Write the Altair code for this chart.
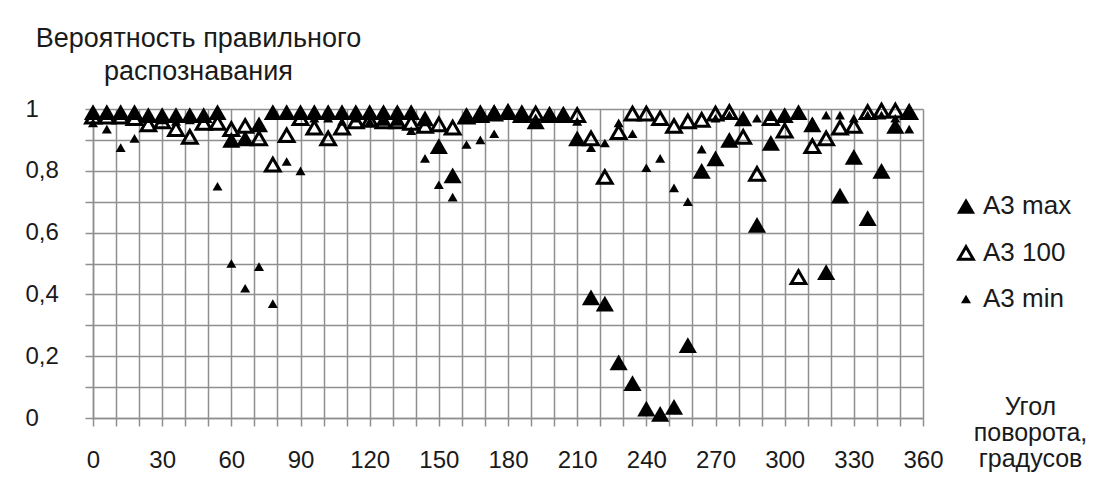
import altair as alt
import pandas as pd

# Rotation angle, degrees
angles = [0, 6, 12, 18, 24, 30, 36, 42, 48, 54,
          60, 66, 72, 78, 84, 90, 96, 102, 108, 114,
          120, 126, 132, 138, 144, 150, 156, 162, 168, 174,
          180, 186, 192, 198, 204, 210, 216, 222, 228, 234,
          240, 246, 252, 258, 264, 270, 276, 282, 288, 294,
          300, 306, 312, 318, 324, 330, 336, 342, 348, 354]

# Recognition probability per series
a3_max = [0.99, 0.99, 0.99, 0.99, 0.98, 0.98, 0.98, 0.98, 0.98, 0.99,
          0.90, 0.905, 0.95, 0.99, 0.99, 0.99, 0.99, 0.99, 0.99, 0.99,
          0.99, 0.99, 0.99, 0.99, 0.97, 0.88, 0.785, 0.98, 0.99, 0.99,
          0.99, 0.99, 0.96, 0.98, 0.98, 0.905, 0.39, 0.37, 0.18, 0.113,
          0.03, 0.013, 0.036, 0.236, 0.80, 0.84, 0.90, 0.97, 0.625, 0.89,
          0.98, 0.99, 0.95, 0.472, 0.72, 0.845, 0.647, 0.80, 0.945, 0.99]

a3_100 = [0.975, 0.975, 0.975, 0.97, 0.95, 0.96, 0.935, 0.91, 0.955, 0.955,
          0.935, 0.945, 0.905, 0.82, 0.915, 0.97, 0.94, 0.905, 0.94, 0.96,
          0.965, 0.96, 0.96, 0.955, 0.945, 0.95, 0.94, 0.975, 0.98, 0.985,
          0.99, 0.98, 0.985, 0.98, 0.98, 0.98, 0.905, 0.78, 0.925, 0.985,
          0.985, 0.97, 0.945, 0.96, 0.965, 0.985, 0.99, 0.91, 0.79, 0.97,
          0.93, 0.456, 0.88, 0.905, 0.94, 0.945, 0.99, 0.995, 0.995, 0.99]

a3_min = [0.955, 0.935, 0.875, 0.905, 0.97, 0.965, 0.96, 0.965, 0.97, 0.75,
          0.50, 0.42, 0.49, 0.37, 0.83, 0.80, 0.97, 0.97, 0.96, 0.97,
          0.96, 0.96, 0.96, 0.93, 0.84, 0.755, 0.715, 0.885, 0.90, 0.92,
          0.98, 0.97, 0.95, 0.97, 0.97, 0.96, 0.875, 0.89, 0.955, 0.92,
          0.81, 0.84, 0.745, 0.70, 0.87, 0.97, 0.98, 0.97, 0.97, 0.975,
          0.97, 0.98, 0.96, 0.98, 0.98, 0.97, 0.98, 0.98, 0.97, 0.935]

series_names = ["A3 max", "A3 100", "A3 min"]
x_ticks = list(range(0, 361, 10))
y_ticks = [0, 0.1, 0.2, 0.3, 0.4, 0.5, 0.6, 0.7, 0.8, 0.9, 1.0]

rows = []
for k, (name, vals) in enumerate(zip(series_names, [a3_max, a3_100, a3_min])):
    for a, v in zip(angles, vals):
        rows.append({"angle": a, "p": v, "series": name, "k": k})
df = pd.DataFrame(rows)

FONT = "Liberation Sans"
TXT = "#1a1a1a"
GRID = "#8f8f8f"
W, H = 830, 309
NONE = "rgba(0,0,0,0)"

points = alt.Chart(df).mark_point(shape="triangle-up", strokeWidth=3, opacity=1).encode(
    x=alt.X("angle:Q",
            scale=alt.Scale(domain=[0, 360], nice=False),
            axis=alt.Axis(values=x_ticks,
                          labelExpr="datum.value % 30 == 0 ? datum.label : ''",
                          title=["Угол", "поворота,", "градусов"],
                          titleAngle=0, titleAlign="center", titleBaseline="top",
                          titleX=W + 107, titleY=-24, titleLineHeight=26,
                          titleFontSize=25, titleFontWeight="normal")),
    y=alt.Y("p:Q",
            scale=alt.Scale(domain=[0, 1], nice=False),
            axis=alt.Axis(values=y_ticks,
                          labelExpr="round(datum.value * 10) % 2 == 0 ? replace(format(datum.value, '.1~f'), '.', ',') : ''",
                          title=["Вероятность правильного", "распознавания"],
                          titleAngle=0, titleAlign="center", titleBaseline="top",
                          titleX=105, titleY=-84, titleLineHeight=33,
                          titleFontSize=27, titleFontWeight="normal")),
    fill=alt.Fill("series:N", sort=series_names,
                  scale=alt.Scale(domain=series_names, range=["black", NONE, "black"])),
    stroke=alt.Stroke("series:N", sort=series_names,
                      scale=alt.Scale(domain=series_names, range=[NONE, "black", NONE])),
    size=alt.Size("series:N", sort=series_names,
                  scale=alt.Scale(domain=series_names, range=[330, 100])),
    order=alt.Order("k:Q"),
)

chart = points.properties(
    width=W, height=H,
    autosize=alt.AutoSizeParams(type="none"),
    padding={"left": 93, "top": 109, "right": 1099 - 93 - W, "bottom": 488 - 109 - H},
    background="white",
).configure_view(stroke=None).configure_axis(
    grid=True, gridColor=GRID, gridWidth=1.5, gridOpacity=1,
    domainColor=GRID, domainWidth=1.5,
    tickColor=GRID, tickWidth=1.5, tickSize=8,
    labelFont=FONT, labelFontSize=24, labelColor=TXT, labelFlush=False,
    labelOverlap=False,
    titleFont=FONT, titleColor=TXT,
).configure_axisX(labelPadding=22).configure_axisY(
    labelPadding=60, labelAlign="left"
).configure_legend(
    title=None, orient="none", legendX=W + 30, legendY=84,
    symbolType="triangle-up", symbolStrokeWidth=3,
    labelFont=FONT, labelFontSize=26, labelColor=TXT,
    rowPadding=20, labelOffset=4,
)

chart.save("out.html", embed_options={"renderer": "svg", "actions": False})
